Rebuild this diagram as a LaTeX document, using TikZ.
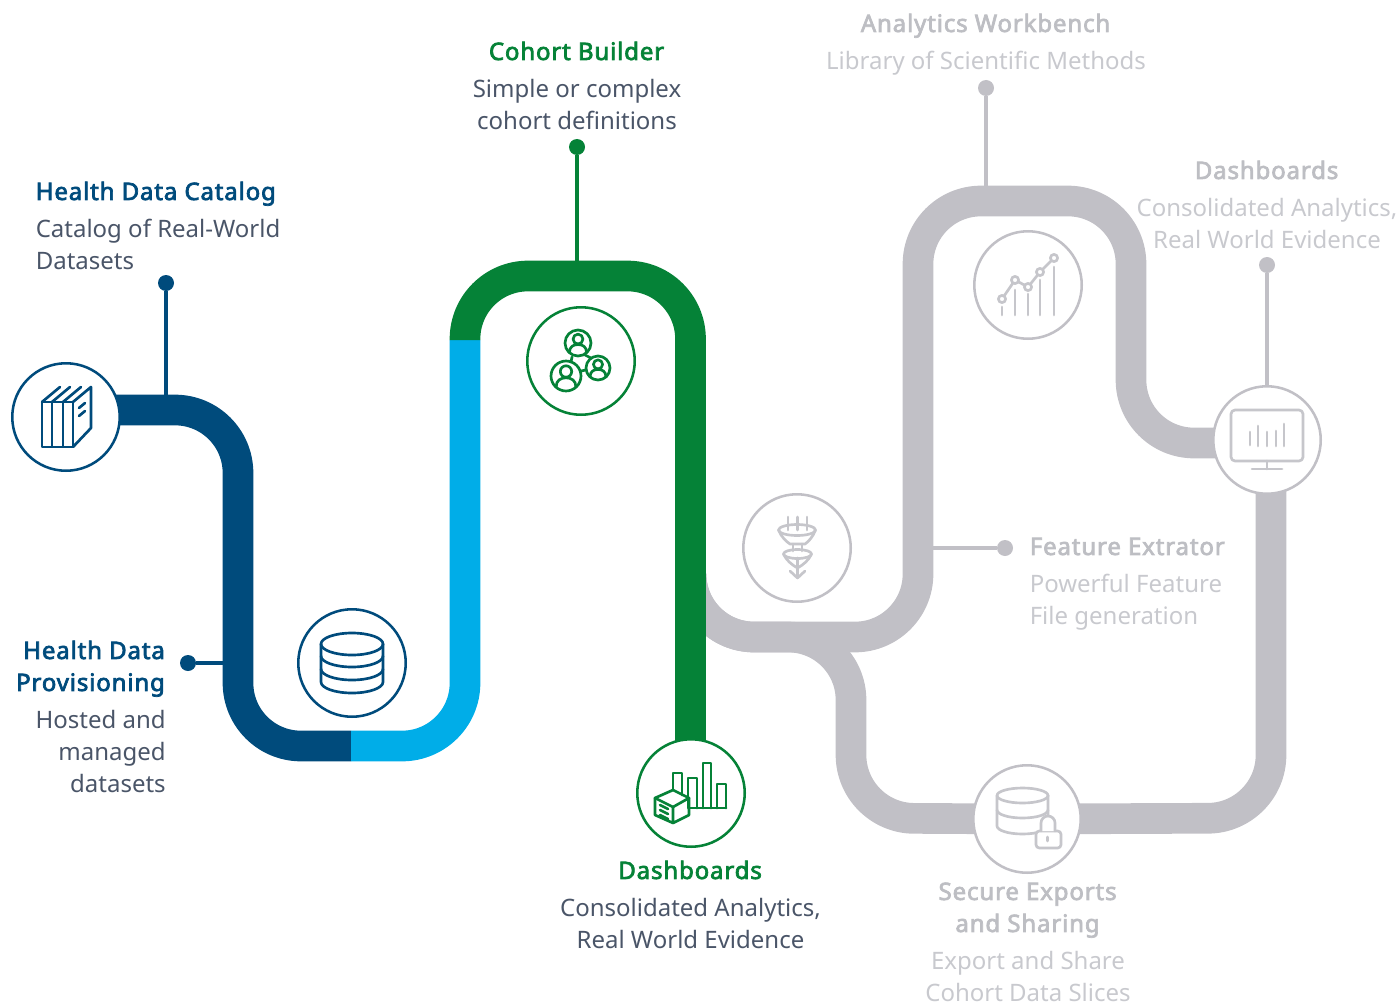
\documentclass[tikz,border=0pt]{standalone}
\usepackage{fontspec}
\setmainfont{Noto Sans}[BoldFont={Noto Sans},BoldFeatures={FakeBold=3,LetterSpace=3.6}]
\usetikzlibrary{backgrounds}
\definecolor{navy}{HTML}{004B7C}
\definecolor{sky}{HTML}{00ADE8}
\definecolor{leaf}{HTML}{058237}
\definecolor{ash}{HTML}{C1C0C6}
\definecolor{ashline}{HTML}{C6C6CB}
\definecolor{slate}{HTML}{4A5568}
\definecolor{ashtitle}{HTML}{BDBEC3}
\definecolor{ashtext}{HTML}{C8C9CE}
\tikzset{
  track/.style={line width=23pt,line cap=butt,line join=round,rounded corners=47.25pt},
  hub/.style={circle,draw=#1,fill=white,line width=1.9pt,minimum size=80.6pt,inner sep=0pt},
  pin/.style={circle,fill=#1,minimum size=12pt,inner sep=0pt},
  stem/.style={line width=2.3pt},
  icon/.style={line width=2pt,line join=round,line cap=round},
  blurb/.style={inner sep=0pt,font=\fontsize{18}{24}\selectfont},
  persona/.pic={
    \draw[pic actions] (0,0) circle (1);
    \draw[pic actions] (0,-.3) circle (.38);
    \draw[pic actions] (-.66,.74) .. controls (-.66,.28) and (-.35,.12) .. (0,.12) .. controls (.35,.12) and (.66,.28) .. (.66,.74);
  }
}
\newcommand{\lead}[1]{\textbf{#1}}
\begin{document}
\begin{tikzpicture}[x=.75pt,y=-.75pt]
\useasboundingbox (0,0) rectangle (1398,1002);
% hubs
\node[hub=navy] (books) at (66,417) {};
\node[hub=navy] (store) at (352,663) {};
\node[hub=leaf] (cohort) at (581,361) {};
\node[hub=leaf] (dash) at (691,793) {};
\node[hub=ash] (funnel) at (797,548) {};
\node[hub=ash] (chart) at (1028,285) {};
\node[hub=ash] (screen) at (1267,440) {};
\node[hub=ash] (vault) at (1027,819) {};
% pins
\node[pin=navy] (pinA) at (166,283) {};
\node[pin=navy] (pinB) at (188,663) {};
\node[pin=leaf] (pinC) at (577,147) {};
\node[pin=ash] (pinD) at (986,88) {};
\node[pin=ash] (pinE) at (1267,265) {};
\node[pin=ash] (pinF) at (1005,548) {};
% track junctions
\coordinate (booksOut) at (100,410);
\coordinate (change) at (351,746);
\coordinate (swap) at (465,340);
\coordinate (fork) at (691,574);
\coordinate (dashIn) at (690.5,790);
\coordinate (screenIn) at (1240,443);
\coordinate (screenOut) at (1271,470);
\begin{pgfonlayer}{background}
\draw[track,ash] (fork) -- (691,637) -- (918,637) -- (918,201) -- (1131,201) -- (1131,443) -- (screenIn);
\draw[track,ash] (fork) -- (691,637) -- (851,637) -- (851,818) -- (vault.center);
\draw[track,ash] (vault.center) -- (1271,818) -- (screenOut);
\draw[track,navy] (booksOut) -- (238,410) -- (238,746) -- (change);
\draw[track,sky] (change) -- (465,746) -- (swap);
\draw[track,leaf] (swap) -- (465,276) -- (690.5,276) -- (dashIn);
\draw[stem,navy] (pinA) -- (166,396);
\draw[stem,navy] (pinB) -- (224,663);
\draw[stem,leaf] (pinC) -- (577,262);
\draw[stem,ash] (pinD) -- (986,187);
\draw[stem,ash] (pinE) -- (1267,388);
\draw[stem,ash] (pinF) -- (932,548);
\end{pgfonlayer}
% labels
\node[blurb,anchor=north west,align=left,text=slate] (tCatalog) at (35.5,177.3) {\strut{\color{navy}\lead{Health Data Catalog}}\\[4pt]Catalog of Real-World\\Datasets};
\node[blurb,anchor=north east,align=right,text=slate] (tProv) at (166,636.3) {\strut{\color{navy}\lead{Health Data}}\\{\color{navy}\lead{Provisioning}}\\[4pt]Hosted and\\managed\\datasets};
\node[blurb,anchor=north,align=center,text=slate] (tCohort) at (577,37.3) {\strut{\color{leaf}\lead{Cohort Builder}}\\[4pt]Simple or complex\\cohort definitions};
\node[blurb,anchor=north,align=center,text=slate] (tDash) at (690.5,856.3) {\strut{\color{leaf}\lead{Dashboards}}\\[4pt]Consolidated Analytics,\\Real World Evidence};
\node[blurb,anchor=north,align=center,text=ashtext] (tBench) at (986,9.3) {\strut{\color{ashtitle}\lead{Analytics Workbench}}\\[4pt]Library of Scientific Methods};
\node[blurb,anchor=north,align=center,text=ashtext] (tDashB) at (1267,156.3) {\strut{\color{ashtitle}\lead{Dashboards}}\\[4pt]Consolidated Analytics,\\Real World Evidence};
\node[blurb,anchor=north west,align=left,text=ashtext] (tFeat) at (1029.5,532.3) {\strut{\color{ashtitle}\lead{Feature Extrator}}\\[4pt]Powerful Feature\\File generation};
\node[blurb,anchor=north,align=center,text=ashtext] (tSec) at (1028,877.3) {\strut{\color{ashtitle}\lead{Secure Exports}}\\{\color{ashtitle}\lead{and Sharing}}\\[4pt]Export and Share\\Cohort Data Slices};
% books icon
\begin{scope}[icon,navy]
\draw (42,402) rectangle (52,447) (52,402) rectangle (63,447) (63,402) rectangle (73,447);
\draw (42,402) -- (60,387) (52,402) -- (70,387) (63,402) -- (81,387);
\draw (73,402) -- (91,387) -- (91,428) -- (73,447);
\draw (79,408) -- (85,403) (79,416) -- (85,411);
\end{scope}
% database icon
\begin{scope}[icon,navy]
\draw (352,644) ellipse (31 and 11);
\draw (321,644) -- (321,682) arc[start angle=180,end angle=0,x radius=31,y radius=11] -- (383,644);
\draw (321,656) arc[start angle=180,end angle=0,x radius=31,y radius=11];
\draw (321,669) arc[start angle=180,end angle=0,x radius=31,y radius=11];
\end{scope}
% cohort icon
\begin{scope}[icon,leaf]
\draw (572,357) -- (571,362) (585,355) -- (591,358) (581,371) -- (586,370);
\path (578,343) pic[scale=13] {persona};
\path (566,376) pic[scale=15] {persona};
\path (598,368) pic[scale=12] {persona};
\end{scope}
% dashboards icon
\begin{scope}[icon,leaf]
\draw (673,790) -- (673,773) -- (682,773) -- (682,795);
\draw (688,808) -- (688,778) -- (697,778) -- (697,808);
\draw (703,808) -- (703,763) -- (711,763) -- (711,808);
\draw (717,808) -- (717,784) -- (726,784) -- (726,808);
\draw (689,808) -- (726,808);
\draw (655,798) -- (673,790) -- (689,798) -- (673,807) -- cycle;
\draw (655,798) -- (655,815) -- (673,823) -- (689,815) -- (689,798) (673,807) -- (673,823);
\draw (660,805) -- (668,809) (660,810) -- (668,814) (660,815) -- (668,819);
\end{scope}
% funnel icon
\begin{scope}[icon,ashline]
\draw (788,517) -- (788,530) (797.5,517) -- (797.5,530) (807,517) -- (807,530);
\draw (797,530) ellipse (18.5 and 5.5);
\draw (778.5,530) .. controls (781,537) and (787,542) .. (790,544) -- (805,544) .. controls (808,542) and (813,537) .. (815.5,530);
\draw (793,544) -- (793,551) (802,544) -- (802,551);
\draw (797.5,554) ellipse (14 and 4.5);
\draw (783.5,554) .. controls (786,560) and (792,565) .. (797.5,568) .. controls (803,565) and (809,560) .. (811.5,554);
\draw (797.5,558) -- (797.5,578) (790,571) -- (797.5,578) -- (805,571);
\end{scope}
% chart icon
\begin{scope}[icon,ashline]
\draw (1002,299) -- (1015,280) -- (1028,287) -- (1040,272) -- (1054,258);
\foreach \px/\py in {1002/299,1015/280,1028/287,1040/272,1054/258}
  \draw[fill=white] (\px,\py) circle (3.6);
\draw (1002,307) -- (1002,315) (1015,290) -- (1015,315) (1028,294) -- (1028,315) (1040,280) -- (1040,315) (1054,267) -- (1054,315);
\end{scope}
% monitor icon
\begin{scope}[icon,ashline]
\draw[rounded corners=3pt] (1231,410) rectangle (1303,461);
\draw (1267,461) -- (1267,469) (1252,469) -- (1282,469);
\draw (1250,432) -- (1250,445) (1258,426) -- (1258,446) (1267,432) -- (1267,446) (1276,431) -- (1276,446) (1284,424) -- (1284,446);
\end{scope}
% secure database icon
\begin{scope}[icon,ashline]
\draw (1022.5,795.5) ellipse (25.5 and 7.5);
\draw (997,795.5) -- (997,826) arc[start angle=180,end angle=0,x radius=25.5,y radius=8] -- (1048,795.5);
\draw (997,810) arc[start angle=180,end angle=0,x radius=25.5,y radius=8];
\draw[fill=white,rounded corners=2.5pt] (1036,831) rectangle (1061,848);
\draw[fill=white] (1041,831) -- (1041,823) arc[start angle=180,end angle=360,x radius=7,y radius=7] -- (1055,831);
\draw (1047.5,837) -- (1047.5,841);
\end{scope}
\end{tikzpicture}
\end{document}
